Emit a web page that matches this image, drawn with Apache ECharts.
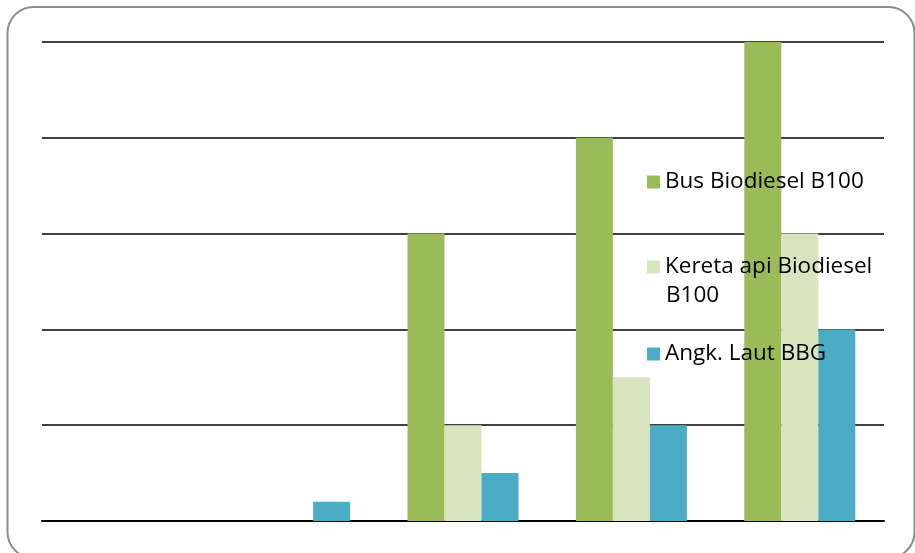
<!DOCTYPE html>
<html><head><meta charset="utf-8">
<script src="https://cdn.jsdelivr.net/npm/echarts@6/dist/echarts.min.js"></script>
<style>html,body{margin:0;padding:0;background:#fff}#c{width:915px;height:553px}</style>
</head><body><div id="c"></div>
<script>
var categories = ['1', '2', '3', '4', '5'];
var seriesNames = ['Bus Biodiesel B100', 'Kereta api Biodiesel B100', 'Angk. Laut BBG'];
var busValues = [0, 0, 3, 4, 5];
var keretaValues = [0, 0, 1, 1.5, 3];
var lautValues = [0, 0.2, 0.5, 1, 2];
var colors = ['#9BBB59', '#D7E4BD', '#4BACC6'];

var chart = echarts.init(document.getElementById('c'));
var font = 'Open Sans';
var fs = 22.5;
var txt = {fontFamily: font, fontSize: fs, color: '#000', lineHeight: 28};
function leg(name, top, fmt) {
  return {data: [name], left: 647, top: top, orient: 'vertical', itemWidth: 13, itemHeight: 13,
    itemGap: 0, padding: 0, icon: 'rect', textStyle: txt, z: 10, selectedMode: false,
    formatter: fmt || function (n) { return n; }};
}
chart.setOption({
  animation: false,
  color: colors,
  graphic: [{type: 'rect', shape: {x: 7.5, y: 7, width: 907, height: 551, r: 26},
    style: {fill: 'none', stroke: '#8c8c8c', lineWidth: 2}, z: 0},
    {type: 'text', left: 666, top: 284, z: 100, style: {text: 'B100', fontFamily: font, fontSize: fs, fill: '#000'}}],
  legend: [leg(seriesNames[0], 168, null), leg(seriesNames[1], 253, function () { return 'Kereta api Biodiesel'; }), leg(seriesNames[2], 340, null)],
  grid: {left: 42, right: 31, top: 42, bottom: 32},
  xAxis: {type: 'category', data: categories, axisLine: {lineStyle: {color: '#000', width: 2}},
    axisTick: {show: false}, axisLabel: {show: false}},
  yAxis: {type: 'value', min: 0, max: 5, interval: 1, axisLabel: {show: false},
    axisLine: {show: false}, axisTick: {show: false},
    splitLine: {lineStyle: {color: '#000', width: 1.5}}},
  series: [
    {name: seriesNames[0], type: 'bar', data: busValues, barWidth: 37, barGap: '0%'},
    {name: seriesNames[1], type: 'bar', data: keretaValues, barWidth: 37, barGap: '0%'},
    {name: seriesNames[2], type: 'bar', data: lautValues, barWidth: 37, barGap: '0%'}
  ]
});
</script></body></html>
